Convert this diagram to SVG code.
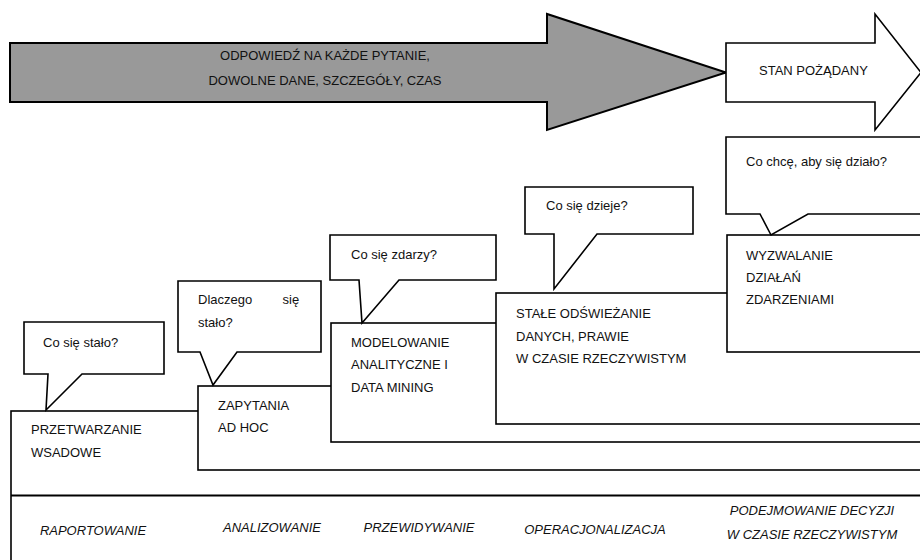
<svg xmlns="http://www.w3.org/2000/svg" width="920" height="560" viewBox="0 0 920 560">
<style>
  .bg { fill: #ffffff; }
  .box { fill: #ffffff; stroke: #000; stroke-width: 1.6; stroke-linejoin: miter; }
  .gray { fill: #999999; stroke: #000; stroke-width: 2; stroke-linejoin: miter; }
  .t { font-family: "Liberation Sans", Arial, sans-serif; font-size: 13px; fill: #111; }
  .ti { font-family: "Liberation Sans", Arial, sans-serif; font-size: 13px; fill: #111; font-style: italic; }
  .mid { text-anchor: middle; }
</style>
<rect class="bg" x="0" y="0" width="920" height="560"/>

<g id="arrow-answer">
  <path class="gray" d="M10,43 H547 V14 L726,72.5 L547,130 V102 H10 Z"/>
  <text class="t mid" x="325" y="60">ODPOWIEDŹ NA KAŻDE PYTANIE,</text>
  <text class="t mid" x="325" y="85">DOWOLNE DANE, SZCZEGÓŁY, CZAS</text>
</g>

<g id="arrow-desired">
  <path class="box" d="M726,43 H875 V14 L921,72.5 L875,130 V102 H726 Z"/>
  <text class="t" x="759" y="74.5">STAN POŻĄDANY</text>
</g>

<g id="stage-batch">
  <rect class="box" x="11" y="411" width="930" height="170"/>
  <text class="t" x="31" y="434">PRZETWARZANIE</text>
  <text class="t" x="31" y="457">WSADOWE</text>
</g>

<g id="stage-adhoc">
  <rect class="box" x="198" y="386" width="740" height="84"/>
  <text class="t" x="218" y="410">ZAPYTANIA</text>
  <text class="t" x="218" y="432">AD HOC</text>
</g>

<g id="stage-modeling">
  <rect class="box" x="331" y="323" width="610" height="119"/>
  <text class="t" x="351" y="346.5">MODELOWANIE</text>
  <text class="t" x="351" y="369">ANALITYCZNE I</text>
  <text class="t" x="351" y="392">DATA MINING</text>
</g>

<g id="stage-realtime">
  <rect class="box" x="496" y="293" width="445" height="131"/>
  <text class="t" x="516" y="318">STAŁE ODŚWIEŻANIE</text>
  <text class="t" x="516" y="340.5">DANYCH, PRAWIE</text>
  <text class="t" x="516" y="362.5">W CZASIE RZECZYWISTYM</text>
</g>

<g id="stage-events">
  <rect class="box" x="727" y="235" width="214" height="117"/>
  <text class="t" x="746" y="259.5">WYZWALANIE</text>
  <text class="t" x="746" y="281.5">DZIAŁAŃ</text>
  <text class="t" x="746" y="303.5">ZDARZENIAMI</text>
</g>

<g id="callout-what-happened">
  <path class="box" d="M24,322 H164 V374 H82 L46,410 L48,374 H24 Z"/>
  <text class="t" x="43" y="347">Co się stało?</text>
</g>

<g id="callout-why">
  <path class="box" d="M178,281 H321 V352 H237 L213,385 L200,352 H178 Z"/>
  <text class="t" x="198" y="304">Dlaczego</text>
  <text class="t" x="282.5" y="304">się</text>
  <text class="t" x="198" y="327">stało?</text>
</g>

<g id="callout-will-happen">
  <path class="box" d="M330,235 H496 V280 H399 L362,323 L359,280 H330 Z"/>
  <text class="t" x="351" y="258.5">Co się zdarzy?</text>
</g>

<g id="callout-happening">
  <path class="box" d="M525,187 H693 V234 H597 L554,289 L554,234 H525 Z"/>
  <text class="t" x="546" y="210">Co się dzieje?</text>
</g>

<g id="callout-want">
  <path class="box" d="M726,137 H940 V214 H808 L771,235 L760,214 H726 Z"/>
  <text class="t" x="746" y="166">Co chcę, aby się działo?</text>
</g>

<g id="bottom-row">
  <line x1="11" y1="495.5" x2="920" y2="495.5" stroke="#000" stroke-width="2"/>
  <text class="ti mid" x="93" y="535">RAPORTOWANIE</text>
  <text class="ti mid" x="272" y="532">ANALIZOWANIE</text>
  <text class="ti mid" x="419" y="532">PRZEWIDYWANIE</text>
  <text class="ti mid" x="595" y="534">OPERACJONALIZACJA</text>
  <text class="ti mid" x="812" y="515">PODEJMOWANIE DECYZJI</text>
  <text class="ti mid" x="812" y="539">W CZASIE RZECZYWISTYM</text>
</g>
</svg>
